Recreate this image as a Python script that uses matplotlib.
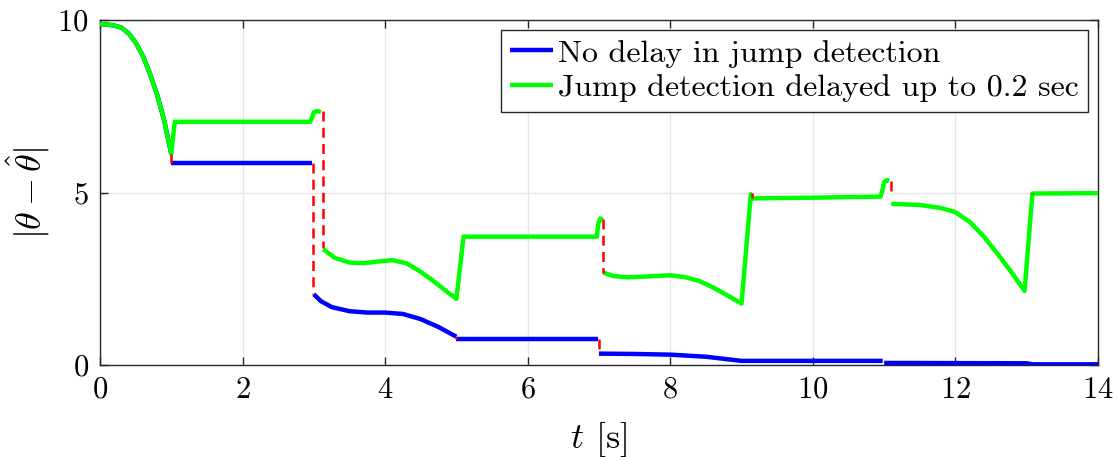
import numpy as np
import matplotlib
matplotlib.use("Agg")
import matplotlib.pyplot as plt

# --- data ---
# no delay (blue), piecewise between jumps
blue_t = [
    [0.0, 0.1, 0.2, 0.3, 0.4, 0.5, 0.6, 0.7, 0.8, 0.9, 1.0],
    [1.0, 2.98],
    [3.0, 3.1, 3.25, 3.5, 3.75, 4.0, 4.25, 4.5, 4.75, 5.0],
    [5.0, 6.98],
    [7.0, 7.5, 8.0, 8.5, 9.0, 10.98],
    [11.0, 13.0, 13.08, 14.0],
]
blue_y = [
    [9.88, 9.87, 9.84, 9.78, 9.62, 9.35, 8.97, 8.45, 7.85, 7.1, 6.12],
    [5.85, 5.85],
    [2.05, 1.85, 1.68, 1.56, 1.52, 1.52, 1.48, 1.33, 1.1, 0.82],
    [0.75, 0.75],
    [0.33, 0.32, 0.3, 0.24, 0.12, 0.12],
    [0.06, 0.05, 0.02, 0.02],
]

# detection delayed up to 0.2 s (green)
green_t = [
    [0.0, 0.1, 0.2, 0.3, 0.4, 0.5, 0.6, 0.7, 0.8, 0.9, 1.0, 1.05, 2.95,
     2.98, 3.0, 3.05, 3.1],
    [3.13, 3.3, 3.5, 3.7, 3.9, 4.1, 4.3, 4.5, 4.7, 4.85, 5.0, 5.1, 6.97,
     6.99, 7.02, 7.05],
    [7.06, 7.2, 7.4, 7.7, 8.0, 8.2, 8.4, 8.6, 8.8, 9.0, 9.13, 9.16, 10.0,
     10.95, 10.98, 11.0, 11.04, 11.07],
    [11.1, 11.5, 11.8, 12.0, 12.2, 12.4, 12.6, 12.8, 12.97, 13.08, 14.0],
]
green_y = [
    [9.88, 9.87, 9.84, 9.78, 9.62, 9.35, 8.97, 8.45, 7.85, 7.1, 6.12, 7.05, 7.05,
     7.2, 7.33, 7.36, 7.33],
    [3.36, 3.1, 2.97, 2.95, 3.0, 3.04, 2.95, 2.7, 2.4, 2.15, 1.92, 3.72, 3.72,
     4.1, 4.25, 4.2],
    [2.68, 2.58, 2.54, 2.57, 2.6, 2.55, 2.44, 2.25, 2.02, 1.78, 4.95, 4.83, 4.85,
     4.88, 5.1, 5.3, 5.36, 5.33],
    [4.67, 4.64, 4.55, 4.43, 4.15, 3.72, 3.2, 2.65, 2.15, 4.97, 4.98],
]

# red dashed jump segments: time, value before, value after
jump_t = [1.0, 2.99, 3.13, 5.0, 7.0, 7.06, 9.14, 11.09, 13.08]
jump_from = [6.12, 5.85, 7.35, 0.82, 0.75, 4.22, 4.98, 5.33, 5.0]
jump_to = [5.85, 2.05, 3.38, 0.75, 0.33, 2.68, 4.85, 5.0, 4.95]

labels = ["No delay in jump detection", "Jump detection delayed up to 0.2 sec"]

plt.rcParams["font.family"] = "serif"
plt.rcParams["font.serif"] = ["cmr10"]
plt.rcParams["mathtext.fontset"] = "cm"
plt.rcParams["axes.formatter.use_mathtext"] = True

fig = plt.figure(figsize=(11.18, 4.57), dpi=100)
ax = fig.add_axes([0.0894, 0.2013, 0.8927, 0.7549])

for i, (t, y) in enumerate(zip(blue_t, blue_y)):
    ax.plot(t, y, color="#0000ff", lw=3.2, solid_capstyle="butt",
            label=labels[0] if i == 0 else None, zorder=3)
for i, (t, y) in enumerate(zip(green_t, green_y)):
    ax.plot(t, y, color="#00ff00", lw=3.2, solid_capstyle="butt",
            label=labels[1] if i == 0 else None, zorder=4)
for t, a, b in zip(jump_t, jump_from, jump_to):
    ax.plot([t, t], [a, b], color="#ff0000", lw=1.8, ls=(0, (4, 2.5)), zorder=5)

ax.set_xlim(0, 14)
ax.set_ylim(0, 10)
ax.set_xticks(range(0, 15, 2))
ax.set_yticks([0, 5, 10])
ax.grid(True, color="#e6e6e6", lw=1)
ax.set_axisbelow(True)
ax.tick_params(direction="in", top=True, right=True, length=6, width=1,
               color="#262626", labelsize=22, pad=8)
for s in ax.spines.values():
    s.set_color("#262626")
    s.set_linewidth(1)

ax.set_xlabel(r"$t$ [s]", fontsize=26, labelpad=12)
ax.set_ylabel(r"$|\theta-\hat{\theta}|$", fontsize=26, labelpad=4)

leg = ax.legend(loc="upper right", fontsize=23, frameon=True, fancybox=False,
                edgecolor="#262626", framealpha=1, borderpad=0.3,
                handlelength=1.35, handletextpad=0.15, labelspacing=0.2,
                borderaxespad=0.3)
leg.get_frame().set_linewidth(1)

fig.savefig("out.png", dpi=100)
